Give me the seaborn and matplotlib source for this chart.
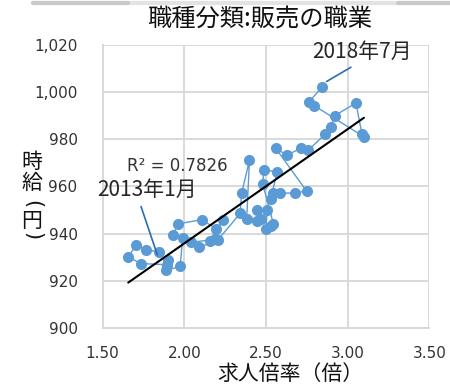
import numpy as np
import pandas as pd
import matplotlib
matplotlib.use("Agg")
import matplotlib.pyplot as plt
from matplotlib.lines import Line2D
import seaborn as sns

# ---- data (chronological, 2013年1月 -> 2018年7月) ----
ratio = [1.845, 1.766, 1.704, 1.657, 1.735, 1.893, 1.901, 1.889, 1.975, 1.990, 1.929, 1.963,
         2.106, 2.197, 2.239, 2.157, 2.191, 2.039, 2.091, 2.205, 2.342, 2.351, 2.399, 2.382,
         2.443, 2.471, 2.448, 2.508, 2.500, 2.528, 2.546, 2.480, 2.488, 2.569, 2.529, 2.545,
         2.589, 2.678, 2.749, 2.559, 2.627, 2.717, 2.759, 2.861, 2.898, 2.922, 3.051, 3.088,
         3.100, 2.797, 2.765, 2.841]
wage = [932.2, 933.2, 935.1, 930.1, 927.3, 926.8, 928.6, 924.4, 926.1, 938.2, 939.2, 944.1,
        945.9, 942.0, 945.9, 936.7, 937.5, 936.3, 934.1, 937.3, 948.5, 957.1, 971.0, 946.1,
        945.2, 946.1, 950.0, 950.0, 942.1, 943.4, 944.0, 961.1, 967.1, 966.0, 954.8, 957.1,
        957.1, 957.2, 958.0, 976.2, 973.2, 976.2, 975.3, 982.0, 985.2, 990.0, 995.3, 982.0,
        981.0, 994.1, 995.9, 1001.9]

x_ticks = [1.5, 2.0, 2.5, 3.0, 3.5]
y_ticks = [900, 920, 940, 960, 980, 1000, 1020]
title = "職種分類:販売の職業"
x_label = "求人倍率（倍）"
y_label_chars = ["時", "給", "(", "円", ")"]
r2_text = "R² = 0.7826"
first_label = "2013年1月"
last_label = "2018年7月"

df = pd.DataFrame({"ratio": ratio, "wage": wage})

sns.set_theme(style="white")
plt.rcParams["font.family"] = ["DejaVu Sans", "Noto Sans CJK JP"]
cjk = ["Noto Sans CJK JP", "DejaVu Sans"]

W, H = 450, 384
fig = plt.figure(figsize=(4.5, 3.84), dpi=100)
ax = fig.add_axes([102.6 / W, 1 - 328 / H, (429.3 - 102.6) / W, (328 - 44.7) / H])

blue = "#5b9bd5"
sns.lineplot(data=df, x="ratio", y="wage", sort=False, estimator=None, ax=ax,
             color=blue, lw=1.0, marker="o", markersize=8, markeredgewidth=0,
             markerfacecolor=blue, zorder=3)
sns.regplot(data=df, x="ratio", y="wage", scatter=False, ci=None, ax=ax, truncate=True,
            line_kws=dict(color="black", lw=1.5, zorder=4))

ax.set_xlim(1.5, 3.5)
ax.set_ylim(900, 1020)
ax.set_xticks(x_ticks)
ax.set_yticks(y_ticks)
ax.set_xticklabels([f"{v:.2f}" for v in x_ticks])
ax.set_yticklabels([f"{v:,}" for v in y_ticks])
ax.grid(True, color="#d9d9d9", lw=1.4)
ax.set_axisbelow(True)
for s in ax.spines.values():
    s.set_visible(False)
for side in ("left", "bottom"):
    ax.spines[side].set_visible(True)
    ax.spines[side].set_color("#d9d9d9")
    ax.spines[side].set_linewidth(1.4)
ax.tick_params(axis="y", length=0, pad=18, labelsize=11, labelcolor="#333333")
ax.tick_params(axis="x", length=0, pad=13, labelsize=11, labelcolor="#333333")
ax.set_xlabel("")
ax.set_ylabel("")

# x axis title
fig.text(290 / W, 1 - 380 / H, x_label, fontsize=15, family=cjk,
         ha="center", va="baseline", color="#111111")

# y axis title, stacked vertically
y_pos = [162, 183, 204, 221, 236]
for ch, yp in zip(y_label_chars, y_pos):
    if ch in "()":
        fig.text(32 / W, 1 - yp / H, ch, fontsize=15, family=["DejaVu Sans"],
                 rotation=-90, ha="center", va="center", color="#111111")
    else:
        fig.text(32 / W, 1 - yp / H, ch, fontsize=15, family=cjk,
                 ha="center", va="center", color="#111111")

fig.text(260 / W, 1 - 20 / H, title, fontsize=17.5, family=cjk,
         ha="center", va="center", color="#111111")

ax.text(1.955, 968.7, r2_text, fontsize=12, ha="center", va="center", color="#333333")

ax.annotate(first_label, xy=(ratio[0] - 0.01, wage[0] - 1.2), xytext=(1.772, 958.6),
            textcoords="data", fontsize=15, family=cjk, ha="center", va="center",
            arrowprops=dict(arrowstyle="-", color="#2e6bb0", lw=1.2, relpos=(0.42, 0.0),
                            shrinkA=2, shrinkB=0))
ax.annotate(last_label, xy=(ratio[-1] + 0.03, wage[-1] + 2.5), xytext=(3.0875, 1017.1),
            textcoords="data", fontsize=15, family=cjk, ha="center", va="center",
            annotation_clip=False,
            arrowprops=dict(arrowstyle="-", color="#2e6bb0", lw=1.2, relpos=(0.47, 0.0),
                            shrinkA=2, shrinkB=0))

fig.add_artist(Line2D([33 / W, 1.0], [1 - 3 / H] * 2, color="#e3e3e3", lw=3))
fig.add_artist(Line2D([33 / W, 128 / W], [1 - 3 / H] * 2, color="#c9c9c9", lw=3))
fig.add_artist(Line2D([398 / W, 1.0], [1 - 3 / H] * 2, color="#c9c9c9", lw=3))

fig.savefig("out.png", dpi=100)
